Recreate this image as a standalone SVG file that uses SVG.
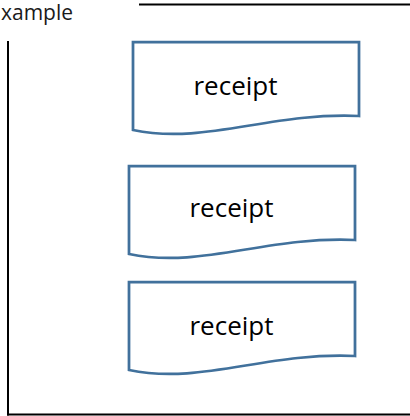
<svg xmlns="http://www.w3.org/2000/svg" width="410" height="416" viewBox="0 0 410 416">
  <defs>
    <!-- document shape: flat top, wavy bottom edge -->
    <path id="doc-shape" d="M0,0 H226 V74 C137,70 72,103 0,88 Z"/>
  </defs>
  <style>
    .doc { fill: #ffffff; stroke: #41719c; stroke-width: 2.75; stroke-linejoin: miter; }
    .label { font-family: "Open Sans", "Liberation Sans", sans-serif; font-size: 26px; fill: #000000; text-anchor: middle; }
    .title { font-family: "Open Sans", "Liberation Sans", sans-serif; font-size: 21px; fill: #1a1a1a; }
    .frame { fill: none; stroke: #000000; stroke-width: 2; }
  </style>
  <rect width="410" height="416" fill="#ffffff"/>

  <!-- container frame -->
  <g id="frame">
    <text class="title" x="1" y="20">xample</text>
    <line class="frame" x1="139" y1="4.5" x2="410" y2="4.5"/>
    <line class="frame" x1="8" y1="41" x2="8" y2="415.5" stroke-width="2.5"/>
    <line class="frame" x1="7" y1="414.5" x2="410" y2="414.5" stroke="#444444"/>
  </g>

  <g id="receipt-1" transform="translate(133,42)">
    <use href="#doc-shape" class="doc"/>
    <text class="label" x="102.5" y="53">receipt</text>
  </g>

  <g id="receipt-2" transform="translate(129,166)">
    <use href="#doc-shape" class="doc"/>
    <text class="label" x="102.5" y="51">receipt</text>
  </g>

  <g id="receipt-3" transform="translate(129,282)">
    <use href="#doc-shape" class="doc"/>
    <text class="label" x="102.5" y="53">receipt</text>
  </g>
</svg>
